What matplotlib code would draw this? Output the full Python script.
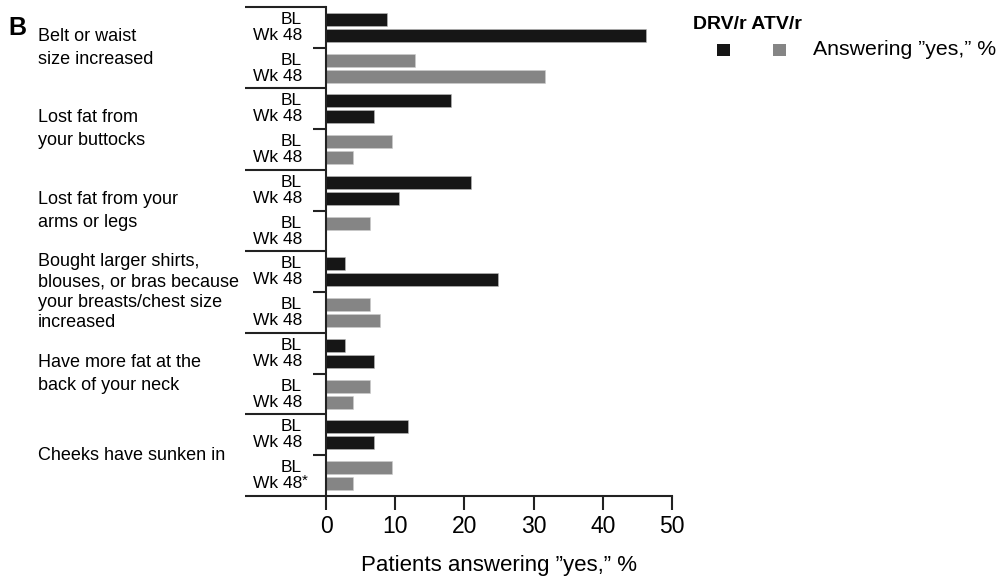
import numpy as np
import matplotlib
import matplotlib.pyplot as plt
from matplotlib.patches import Rectangle
import matplotlib.transforms as mtransforms

#---------------------FONT------------------------
matplotlib.rc('font', family=['Liberation Sans Narrow', 'Liberation Sans', 'DejaVu Sans'], size=12)

#---------------------DATA------------------------
categories = ['Belt or waist\nsize increased',
              'Lost fat from\nyour buttocks',
              'Lost fat from your\narms or legs',
              'Bought larger shirts,\nblouses, or bras because\nyour breasts/chest size\nincreased',
              'Have more fat at the\nback of your neck',
              'Cheeks have sunken in']
row_labels = ['BL', 'Wk 48', 'BL', 'Wk 48']
drv_bl = [8.8, 18.1, 21.0, 2.8, 2.8, 11.8]
drv_wk48 = [46.3, 6.9, 10.5, 24.8, 6.9, 6.9]
atv_bl = [12.8, 9.5, 6.3, 6.4, 6.4, 9.5]
atv_wk48 = [31.7, 3.9, 0.0, 7.8, 3.9, 3.9]
wk48_marks = ['', '', '', '', '', '*']
xticks = [0, 10, 20, 30, 40, 50]
series_names = ['DRV/r', 'ATV/r']
dark = '#161616'
grey = '#858585'

#------------Figure Layout--------------
fig = plt.figure(figsize=(10.01, 5.81), dpi=100)
ax = fig.add_axes([0.3257, 0.1463, 0.3456, 0.8417])

ngroup = len(categories)
gsize = 5.0
offs = np.array([0.75, 1.73, 3.27, 4.25])
base = np.arange(ngroup) * gsize

#PLOT
ax.barh(base + offs[0], drv_bl, height=0.78, color=dark, edgecolor='#bbbbbb', linewidth=0.4)
ax.barh(base + offs[1], drv_wk48, height=0.78, color=dark, edgecolor='#bbbbbb', linewidth=0.4)
ax.barh(base + offs[2], atv_bl, height=0.78, color=grey, edgecolor='#cccccc', linewidth=0.4)
ax.barh(base + offs[3], atv_wk48, height=0.78, color=grey, edgecolor='#cccccc', linewidth=0.4)

ax.set_xlim(0, 50)
ax.set_ylim(ngroup * gsize, 0)
ax.set_xticks(xticks)
ax.set_yticks([])
ax.tick_params(axis='x', length=10, width=1.5, labelsize=16.5, pad=4, color='#222222')
for s in ['top', 'right']:
    ax.spines[s].set_visible(False)
ax.spines['left'].set_linewidth(1.5)
ax.spines['bottom'].set_linewidth(1.5)
ax.spines['left'].set_color('#222222')
ax.spines['bottom'].set_color('#222222')

ax.set_xlabel('Patients answering \u201dyes,\u201d %', fontsize=16, labelpad=12)

# group separators and mid ticks (x in axes coords)
trans = mtransforms.blended_transform_factory(ax.transAxes, ax.transData)
for g in range(ngroup + 1):
    ax.plot([-0.235, 0], [g * gsize, g * gsize], color='#222222', lw=1.5,
            transform=trans, clip_on=False, solid_capstyle='butt')
for g in range(ngroup):
    ax.plot([-0.038, 0], [base[g] + gsize / 2] * 2, color='#222222', lw=1.5,
            transform=trans, clip_on=False, solid_capstyle='butt')

# row labels
lab_off = mtransforms.offset_copy(trans, fig=fig, x=-24, y=0, units='dots')
for g in range(ngroup):
    for k in range(4):
        ax.text(0, base[g] + offs[k], row_labels[k], transform=lab_off,
                ha='right', va='center', fontsize=12.5)
    if wk48_marks[g]:
        ax.text(0, base[g] + offs[3] - 0.2, wk48_marks[g], transform=lab_off,
                ha='left', va='center', fontsize=11)

# category labels
cat_trans = mtransforms.blended_transform_factory(fig.transFigure, ax.transData)
for g in range(ngroup):
    nl = categories[g].count('\n')
    ls = 1.45 if nl < 2 else 1.25
    ax.text(0.038, base[g] + gsize / 2, categories[g], transform=cat_trans,
            ha='left', va='center', fontsize=13, linespacing=ls)

# panel letter
fig.text(0.008, 0.972, 'B', fontsize=18, fontweight='bold', family='Liberation Sans',
         ha='left', va='top')

# legend
fig.text(0.692, 0.972, series_names[0] + ' ' + series_names[1], fontsize=14,
         fontweight='bold', ha='left', va='top')
fig.add_artist(Rectangle((0.7165, 0.904), 0.0125, 0.021, transform=fig.transFigure,
                         facecolor=dark, edgecolor='none'))
fig.add_artist(Rectangle((0.7725, 0.904), 0.0125, 0.021, transform=fig.transFigure,
                         facecolor=grey, edgecolor='none'))
fig.text(0.812, 0.914, 'Answering \u201dyes,\u201d %', fontsize=15.3, ha='left', va='center')

#SAVING
fig.savefig('out.png', dpi=100)
